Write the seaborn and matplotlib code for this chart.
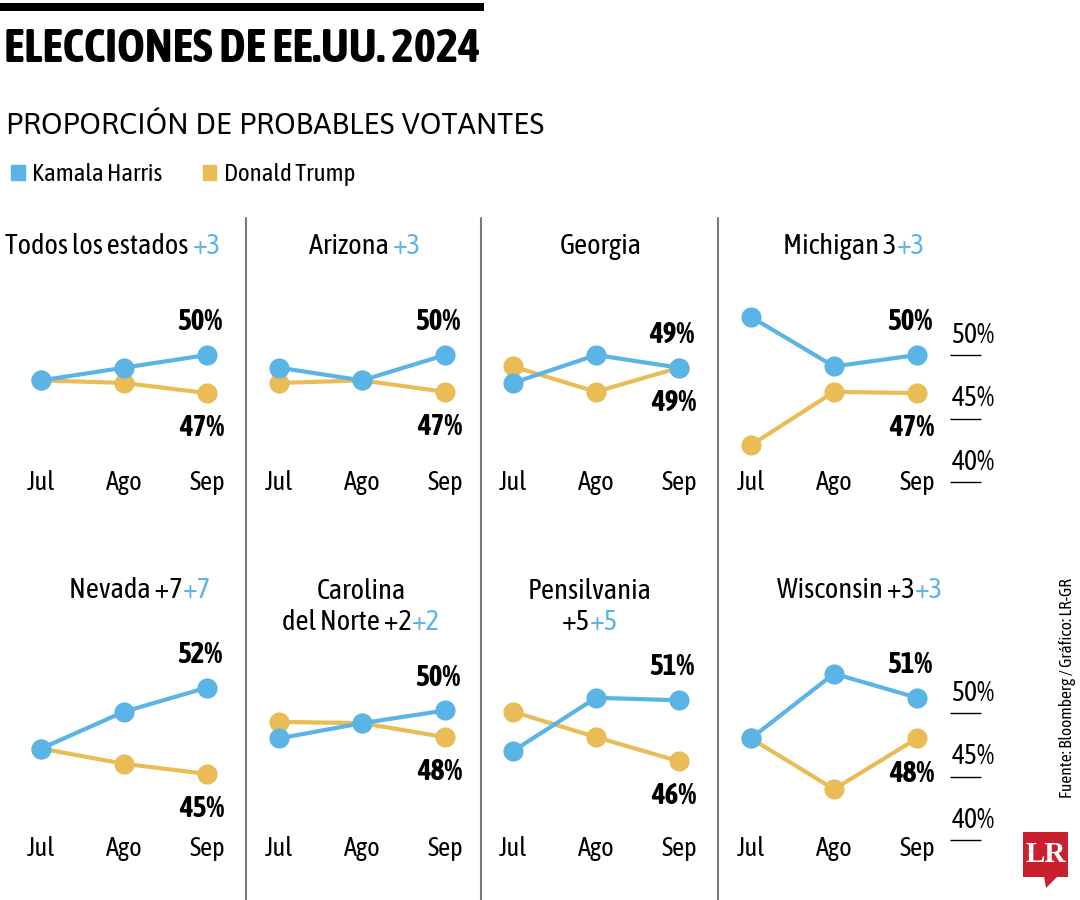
import matplotlib
matplotlib.use("Agg")
import matplotlib.pyplot as plt
import seaborn as sns
import pandas as pd
from matplotlib.patches import Patch, Rectangle, Polygon
from matplotlib.lines import Line2D
from matplotlib.offsetbox import TextArea, HPacker, VPacker, AnnotationBbox

# ==========================================
# 1. Datos
# ==========================================
MESES = ["Jul", "Ago", "Sep"]
ESTADOS = ["Todos los estados", "Arizona", "Georgia", "Michigan",
           "Nevada", "Carolina del Norte", "Pensilvania", "Wisconsin"]

# titulo de cada panel: lineas en negro + sufijo en azul
TITULOS = [
    (["Todos los estados "], "+3"),
    (["Arizona "], "+3"),
    (["Georgia"], ""),
    (["Michigan 3"], "+3"),
    (["Nevada +7"], "+7"),
    (["Carolina", "del Norte +2"], "+2"),
    (["Pensilvania", "+5"], "+5"),
    (["Wisconsin +3"], "+3"),
]

HARRIS = [
    [48.0, 49.0, 50.0],
    [49.0, 48.0, 50.0],
    [47.8, 50.0, 49.0],
    [53.0, 49.1, 50.0],
    [47.2, 50.1, 52.0],
    [48.0, 49.2, 50.2],
    [47.0, 51.2, 51.0],
    [48.0, 53.1, 51.2],
]
TRUMP = [
    [48.0, 47.8, 47.0],
    [47.8, 48.0, 47.1],
    [49.1, 47.1, 49.0],
    [42.9, 47.1, 47.0],
    [47.2, 46.0, 45.2],
    [49.3, 49.2, 48.1],
    [50.1, 48.1, 46.2],
    [48.0, 44.0, 48.0],
]
TICKS_Y = [40, 45, 50]

HARRIS_LABEL = "Kamala Harris"
TRUMP_LABEL = "Donald Trump"

# ==========================================
# 2. Estilo y layout (pixeles del original)
# ==========================================
AZUL = "#5AB4E5"
AMARILLO = "#E9BC55"
GRIS = "#7a7a7a"

sns.set_style("white")
plt.rcParams["font.family"] = ["Asap Condensed", "DejaVu Sans"]
plt.rcParams["text.color"] = "black"
plt.rcParams["xtick.color"] = "black"
plt.rcParams["ytick.color"] = "black"
FAMILIA_ANCHA = ["Asap", "Asap Condensed", "DejaVu Sans"]

W, H = 1080, 900
X_JUL = [41, 279, 513, 751]      # x del primer mes por columna
Y_50 = [355, 713]                # y del 50% por fila
PASO_X = 83
PASO_Y = 12.7
XLIM = (-0.4, 2.4)
YLIM = (39, 56)
PAD_MES = [-18, -12]
TITULO_POS = [(113, 246), (365, 246), (601, 246), (854, 246),
              (140, 591), (361, 607), (590, 607), (860, 591)]


def fx(px):
    return px / W


def fy(py):
    return 1 - py / H


fig = plt.figure(figsize=(10.8, 9), dpi=100)

# barra superior y titulos
fig.add_artist(Rectangle((0, fy(11)), fx(484), 8 / H, color="black", lw=0))
fig.text(fx(4), fy(49), "ELECCIONES DE EE.UU. 2024", fontsize=34,
         fontweight="bold", va="center", ha="left")
fig.text(fx(6), fy(125), "PROPORCIÓN DE PROBABLES VOTANTES", fontsize=21.3,
         va="center", ha="left", family=FAMILIA_ANCHA)

fig.legend(handles=[Patch(color=AZUL, label=HARRIS_LABEL),
                    Patch(color=AMARILLO, label=TRUMP_LABEL)],
           loc="upper left", bbox_to_anchor=(fx(11), fy(163)), ncol=2,
           frameon=False, fontsize=18, handlelength=0.55, handleheight=0.55,
           handletextpad=0.3, columnspacing=1.6, borderpad=0, borderaxespad=0)

# ==========================================
# 3. Paneles
# ==========================================
for i, estado in enumerate(ESTADOS):
    fila, col = divmod(i, 4)
    left = X_JUL[col] + XLIM[0] * PASO_X
    top = Y_50[fila] - (YLIM[1] - 50) * PASO_Y
    ancho = (XLIM[1] - XLIM[0]) * PASO_X
    alto = (YLIM[1] - YLIM[0]) * PASO_Y
    ax = fig.add_axes([fx(left), fy(top + alto), ancho / W, alto / H])
    ax.set_facecolor("none")

    df = pd.DataFrame({
        "mes": list(range(len(MESES))) * 2,
        "valor": TRUMP[i] + HARRIS[i],
        "candidato": [TRUMP_LABEL] * len(MESES) + [HARRIS_LABEL] * len(MESES),
    })
    sns.lineplot(data=df, x="mes", y="valor", hue="candidato",
                 hue_order=[TRUMP_LABEL, HARRIS_LABEL],
                 palette={HARRIS_LABEL: AZUL, TRUMP_LABEL: AMARILLO},
                 marker="o", markersize=14.5, markeredgewidth=0, linewidth=3,
                 legend=False, ax=ax, clip_on=False)

    ax.set_xlim(*XLIM)
    ax.set_ylim(*YLIM)
    ax.set_xlabel("")
    ax.set_ylabel("")
    sns.despine(ax=ax, left=True, bottom=True)
    ax.set_xticks(range(len(MESES)), MESES)
    ax.tick_params(axis="x", length=0, pad=PAD_MES[fila], labelsize=19)

    if col == 3:
        ax.yaxis.tick_right()
        ax.set_yticks(TICKS_Y)
        ax.tick_params(axis="y", right=True, left=False, length=22, width=1,
                       color="black", labelright=False, labelleft=False)
        for v in TICKS_Y:
            ax.annotate(f"{v}%", xy=(1, v), xycoords=("axes fraction", "data"),
                        xytext=(1.5, 4.5), textcoords="offset points",
                        ha="left", va="bottom", fontsize=20)
    else:
        ax.set_yticks([])

    # ultimo valor
    ax.annotate(f"{HARRIS[i][-1]:.0f}%", xy=(2, HARRIS[i][-1]), xytext=(-5, 24),
                textcoords="offset points", ha="center", va="center",
                fontsize=21, fontweight="bold")
    ax.annotate(f"{TRUMP[i][-1]:.0f}%", xy=(2, TRUMP[i][-1]), xytext=(-4, -25),
                textcoords="offset points", ha="center", va="center",
                fontsize=21, fontweight="bold")

    # titulo del panel
    lineas, sufijo = TITULOS[i]
    props = dict(fontsize=20.5, color="black")
    ultima = [TextArea(lineas[-1], textprops=props)]
    if sufijo:
        ultima.append(TextArea(sufijo, textprops=dict(fontsize=20.5, color=AZUL)))
    caja = HPacker(children=ultima, align="baseline", pad=0, sep=0)
    if len(lineas) > 1:
        caja = VPacker(children=[TextArea(l, textprops=props) for l in lineas[:-1]] + [caja],
                       align="center", pad=0, sep=3)
    tx, ty = TITULO_POS[i]
    fig.add_artist(AnnotationBbox(caja, (fx(tx), fy(ty)), xycoords="figure fraction",
                                  frameon=False, box_alignment=(0.5, 0.5)))

# separadores verticales
for xs in [246, 481, 718]:
    fig.add_artist(Line2D([fx(xs), fx(xs)], [fy(218), fy(900)], color=GRIS, lw=1.5))

# fuente y logo
fig.text(fx(1067), fy(688), "Fuente: Bloomberg / Gráfico: LR-GR", rotation=90,
         fontsize=12.5, ha="center", va="center")
fig.add_artist(Rectangle((fx(1023), fy(877)), 45 / W, 45 / H, color="#C8202F", lw=0))
fig.add_artist(Polygon([(fx(1044), fy(876)), (fx(1058), fy(876)), (fx(1046), fy(888))],
                       closed=True, color="#C8202F", lw=0))
fig.text(fx(1045.5), fy(855), "LR", fontsize=21, fontweight="bold", color="white",
         family="Liberation Serif", ha="center", va="center")

fig.savefig("out.png", dpi=100)
